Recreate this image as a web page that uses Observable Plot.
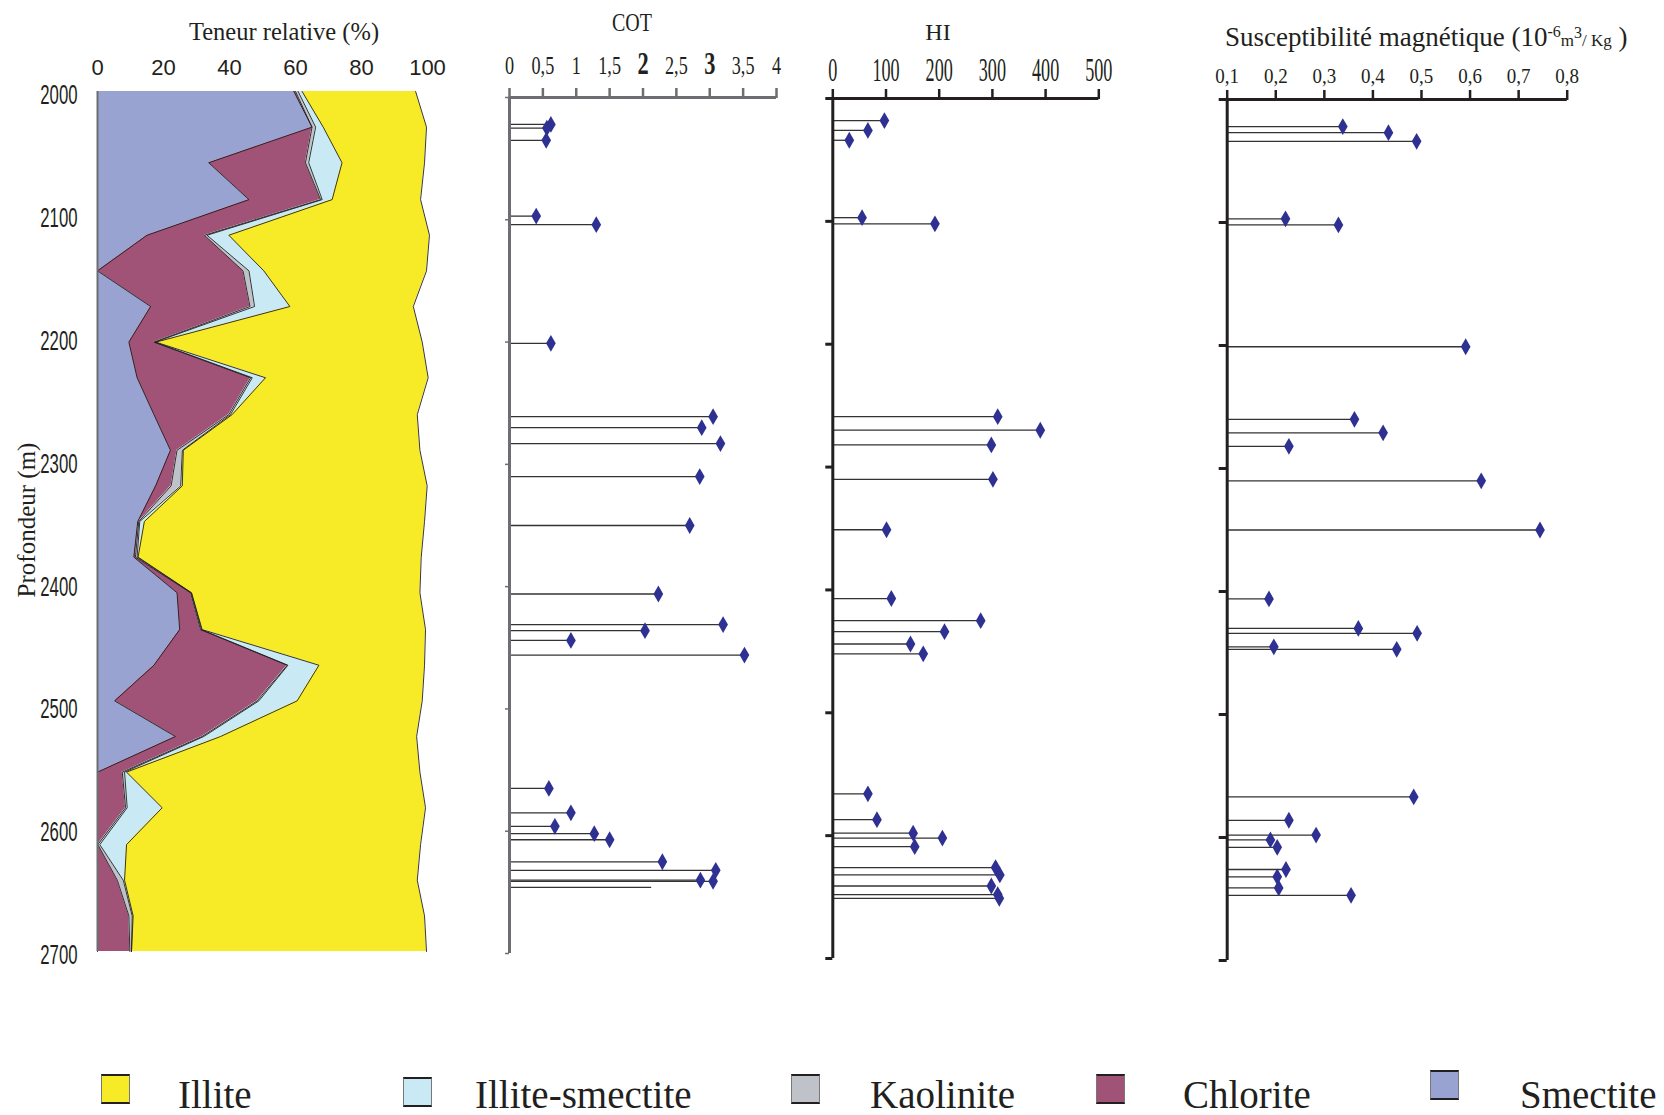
<!DOCTYPE html>
<html><head><meta charset="utf-8">
<script src="https://cdn.jsdelivr.net/npm/d3@7"></script>
<script src="https://cdn.jsdelivr.net/npm/@observablehq/plot@0.6"></script>
<style>
body{margin:0;background:#fff;}
#wrap{position:relative;width:1664px;height:1115px;overflow:hidden;background:#fff;}
#wrap svg{position:absolute;top:0;}
.t{position:absolute;white-space:nowrap;line-height:1;color:#231f20;font-family:"Liberation Serif","Times New Roman",serif;}
.sq{position:absolute;width:27px;height:26px;border-top:2.5px solid #231f20;border-bottom:2.5px solid #231f20;border-left:1px solid #777;border-right:1px solid #777;}
</style></head><body><div id="wrap"></div>
<script>
// ---- Clay minerals (relative content, %) ----
const depths = [2000, 2029, 2058, 2088, 2117, 2146, 2175, 2204, 2233, 2263, 2292, 2321, 2350, 2379, 2408, 2438, 2467, 2496, 2525, 2554, 2583, 2613, 2642, 2671, 2700];
const smectite = [59.5, 65, 33.7, 45.9, 15, 0, 16.1, 9.5, 12, 17.1, 22.1, 17.6, 12.2, 11, 24.1, 24.9, 17.1, 5.2, 23.6, 0, 0, 0, 0, 0, 0];
const chlorite = [0.5, 0, 29.3, 21.7, 17.4, 44.1, 30.1, 7.6, 34.4, 22.7, 2, 4.7, 0.3, 0.5, 4.1, 6.3, 40.4, 43.2, 8.1, 7.5, 8.5, 0.1, 6, 9.5, 9.8];
const kaolinite = [0.8, 1.1, 1, 0.5, 0.8, 1.8, 1.4, 0.3, 0.5, 0.5, 1.6, 2.9, 0.3, 0.5, 0.2, 0.3, 0.2, 0.5, 0.5, 0.7, 0.5, 0.6, 1.8, 1, 0.5];
const illiteSmectite = [1.2, 2.3, 10.1, 3, 6.6, 4.5, 10.7, 0.3, 4, 0.5, 0.3, 0.5, 1.4, 0.3, 0.1, 0.2, 9.4, 11.6, 5.1, 0.6, 10.6, 8.1, 0.4, 0.3, 0];
const illite = [34.4, 31.3, 25, 26.8, 60.8, 49.3, 37.4, 80.7, 49.3, 56.1, 71.7, 74.2, 84.9, 85.8, 69.2, 67.7, 32, 37.9, 59.4, 88.9, 79.8, 89.1, 88.7, 88.3, 89.4];
const minerals = ["Smectite", "Chlorite", "Kaolinite", "Illite-smectite", "Illite"];
const mineralColors = ["#98A3D1", "#A05277", "#C0C2C9", "#C9EAF4", "#F7EA27"];
const legendOrder = ["Illite", "Illite-smectite", "Kaolinite", "Chlorite", "Smectite"];

// ---- COT ----
const cotDepth = [2022, 2025, 2035, 2097, 2104, 2201, 2261, 2270, 2283, 2310, 2350, 2406, 2431, 2436, 2444, 2456, 2565, 2585, 2596, 2602, 2607, 2625, 2632, 2640, 2641];
const cotValue = [0.62, 0.56, 0.55, 0.40, 1.30, 0.62, 3.05, 2.88, 3.16, 2.85, 2.70, 2.23, 3.20, 2.03, 0.92, 3.52, 0.59, 0.92, 0.68, 1.27, 1.50, 2.29, 3.09, 2.86, 3.05];
const cotLineOnlyDepth = [2646];
const cotLineOnlyValue = [2.13];

// ---- HI ----
const hiDepth = [2018, 2026, 2034, 2097, 2102, 2259, 2270, 2282, 2310, 2351, 2407, 2425, 2434, 2444, 2452, 2566, 2587, 2598, 2602, 2609, 2626, 2632, 2641, 2648, 2651];
const hiValue = [97, 66, 31, 55, 192, 310, 390, 298, 301, 101, 110, 278, 210, 146, 170, 66, 83, 151, 206, 154, 306, 314, 298, 310, 313];

// ---- Magnetic susceptibility ----
const susDepth = [2022, 2027, 2034, 2097, 2102, 2201, 2260, 2271, 2282, 2310, 2350, 2406, 2430, 2434, 2445, 2447, 2567, 2586, 2598, 2602, 2608, 2626, 2632, 2641, 2647];
const susValue = [0.338, 0.432, 0.490, 0.220, 0.329, 0.591, 0.362, 0.421, 0.227, 0.623, 0.744, 0.186, 0.370, 0.491, 0.196, 0.449, 0.484, 0.227, 0.283, 0.189, 0.203, 0.221, 0.203, 0.206, 0.355];

// ---- tick labels ----
const depthTicks = [2000, 2100, 2200, 2300, 2400, 2500, 2600, 2700];
const clayTicks = [0, 20, 40, 60, 80, 100];
const cotTicks = [0, 0.5, 1, 1.5, 2, 2.5, 3, 3.5, 4];
const hiTicks = [0, 100, 200, 300, 400, 500];
const susTicks = [0.1, 0.2, 0.3, 0.4, 0.5, 0.6, 0.7, 0.8];

const SERIF = "Liberation Serif, Times New Roman, serif";
const SANS = "Liberation Sans, Arial, sans-serif";
const INK = "#231f20";
const DIAMOND = "#2E3192";
const comma = d => String(d).replace(".", ",");

const clayValues = {"Smectite": smectite, "Chlorite": chlorite, "Kaolinite": kaolinite, "Illite-smectite": illiteSmectite, "Illite": illite};
const clayRows = depths.flatMap((depth, i) => minerals.map(m => ({depth, mineral: m, value: clayValues[m][i]})));
const zip = (ds, vs) => ds.map((d, i) => ({depth: d, value: vs[i]}));

const wrap = document.getElementById("wrap");
function place(svg, left) { svg.style.left = left + "px"; wrap.appendChild(svg); }
function squeeze(svg, axis, sx) {
  d3.select(svg).selectAll(`g[aria-label="${axis}-axis tick label"] text`).each(function() {
    const t = this.getAttribute("transform") || "";
    this.setAttribute("transform", t + ` scale(${sx},1)`);
  });
}
const baseStyle = {background: "transparent", overflow: "visible", color: INK};

// Panel 1: stacked clay minerals
const clay = Plot.plot({
  width: 460, height: 1000,
  marginLeft: 97, marginRight: 33, marginTop: 91, marginBottom: 49,
  style: baseStyle,
  x: {domain: [0, 100]},
  y: {domain: [2000, 2700], reverse: true},
  color: {domain: minerals, range: mineralColors},
  marks: [
    Plot.areaX(clayRows, {y: "depth", x: "value", z: "mineral", fill: "mineral", order: minerals}),
    Plot.lineX(clayRows, Plot.stackX2({y: "depth", x: "value", z: "mineral", order: minerals, stroke: INK, strokeWidth: 0.9})),
    Plot.ruleX([0], {stroke: "#6d6e71", strokeWidth: 2}),
    Plot.axisX({anchor: "top", ticks: clayTicks, tickSize: 0, tickPadding: 17, fontSize: 22, fontFamily: SANS, fill: INK, label: null}),
    Plot.axisY({anchor: "left", ticks: depthTicks, tickSize: 0, tickPadding: 20, dy: 4, fontSize: 27, fontFamily: SANS, fill: INK, label: null, tickFormat: d => String(d)})
  ]
});
squeeze(clay, "y", 0.62);
place(clay, 0);

function lollipop({left, width, mLeft, mRight, mTop, mBottom, domain, ticks, rows, extra = [], axisColor, fontSize, sx, tickPadding, yTick, yTickWidth}) {
  const x0 = domain[0];
  const p = Plot.plot({
    width, height: 1000,
    marginLeft: mLeft, marginRight: mRight, marginTop: mTop, marginBottom: mBottom,
    style: baseStyle,
    x: {domain},
    y: {domain: [2000, 2700], reverse: true},
    marks: [
      Plot.ruleY(rows, {y: "depth", x1: x0, x2: "value", stroke: "#333", strokeWidth: 1.3}),
      Plot.ruleY(extra, {y: "depth", x1: x0, x2: "value", stroke: "#333", strokeWidth: 1.3}),
      Plot.dot(rows, {x: "value", y: "depth", symbol: "diamond", r: 5.1, fill: DIAMOND, stroke: "none"}),
      Plot.ruleY([2000], {stroke: axisColor, strokeWidth: 3}),
      Plot.ruleX([x0], {stroke: axisColor, strokeWidth: 3}),
      Plot.axisX({anchor: "top", ticks, tickSize: 10, tickPadding, stroke: axisColor, strokeWidth: 2.5, fontSize, fontFamily: SERIF, fill: INK, label: null, tickFormat: comma}),
      Plot.axisY({anchor: "left", ticks: depthTicks, tickSize: yTick, stroke: axisColor, strokeWidth: yTickWidth, tickFormat: () => "", label: null})
    ]
  });
  squeeze(p, "x", sx);
  place(p, left);
  return p;
}

const cot = lollipop({left: 440, width: 360, mLeft: 69, mRight: 24, mTop: 97, mBottom: 47,
  domain: [0, 4], ticks: cotTicks, rows: zip(cotDepth, cotValue), extra: zip(cotLineOnlyDepth, cotLineOnlyValue),
  axisColor: "#6d6e71", fontSize: 26, sx: 0.7, tickPadding: 14, yTick: 4, yTickWidth: 1.5});
d3.select(cot).selectAll('g[aria-label="x-axis tick label"] text').each(function() {
  if (this.textContent === "2" || this.textContent === "3") { this.setAttribute("font-size", 32); this.setAttribute("font-weight", "bold"); }
});
lollipop({left: 780, width: 350, mLeft: 52.3, mRight: 31.7, mTop: 98, mBottom: 42,
  domain: [0, 500], ticks: hiTicks, rows: zip(hiDepth, hiValue),
  axisColor: INK, fontSize: 33, sx: 0.55, tickPadding: 8, yTick: 7, yTickWidth: 3});
lollipop({left: 1170, width: 440, mLeft: 56.7, mRight: 43.3, mTop: 99, mBottom: 40,
  domain: [0.1, 0.8], ticks: susTicks, rows: zip(susDepth, susValue),
  axisColor: INK, fontSize: 20, sx: 0.95, tickPadding: 7, yTick: 8, yTickWidth: 3});

// ---- HTML titles and legend ----
function addText(html, {x, baseline, size, anchor = "start", sx = 1, lh = 1}) {
  const div = document.createElement("div");
  div.className = "t";
  div.innerHTML = html;
  div.style.fontSize = size + "px";
  div.style.lineHeight = lh;
  // Liberation Serif: ascent 0.891, descent 0.216
  const off = 0.891 + (lh - 1.107) / 2;
  div.style.top = (baseline - off * size) + "px";
  div.style.left = x + "px";
  const tx = anchor === "middle" ? "translateX(-50%)" : "";
  div.style.transform = `${tx} scaleX(${sx})`;
  div.style.transformOrigin = "0 0";
  wrap.appendChild(div);
  return div;
}
addText("Teneur relative (%)", {x: 284, baseline: 41, size: 24.5, anchor: "middle"});
addText("COT", {x: 637, baseline: 31, size: 25, anchor: "middle", sx: 0.8});
addText("HI", {x: 938, baseline: 40, size: 24, anchor: "middle"});
addText('Susceptibilité magnétique (10<sup style="font-size:16px;vertical-align:9px">-6</sup><span style="font-size:17px">m<sup style="font-size:16px;vertical-align:8px">3</sup>/ Kg</span> )', {x: 1225, baseline: 47, size: 27});

const prof = document.createElement("div");
prof.className = "t";
prof.textContent = "Profondeur (m)";
prof.style.fontSize = "25px";
prof.style.left = "26px";
prof.style.top = "520px";
prof.style.transform = "translate(-50%,-50%) rotate(-90deg)";
wrap.appendChild(prof);

// legend
const legendSquareX = [101, 403, 791, 1096, 1430];
const legendSquareY = [1074, 1077, 1074, 1074, 1070];
const legendLabelX = [178, 475, 870, 1183, 1520];
legendOrder.forEach((m, i) => {
  const sq = document.createElement("div");
  sq.className = "sq";
  sq.style.left = legendSquareX[i] + "px";
  sq.style.top = legendSquareY[i] + "px";
  sq.style.background = mineralColors[minerals.indexOf(m)];
  wrap.appendChild(sq);
  addText(m, {x: legendLabelX[i], baseline: 1108, size: 39, lh: 0.8});
});
</script></body></html>
